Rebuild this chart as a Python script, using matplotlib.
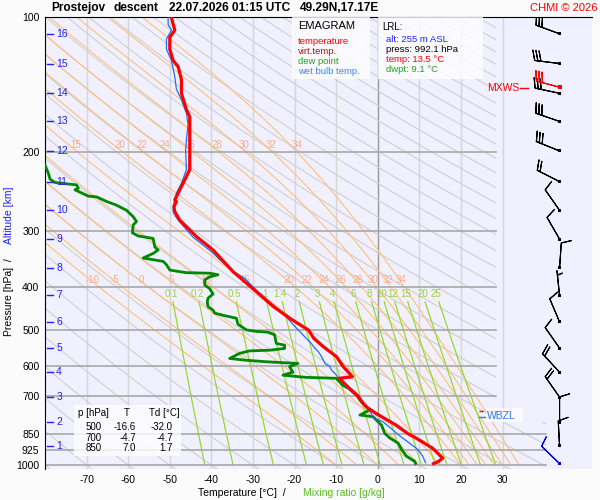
import numpy as np
import matplotlib
matplotlib.use("Agg")
import matplotlib.pyplot as plt
from matplotlib.path import Path
from matplotlib.patches import PathPatch, Rectangle

plt.rcParams["font.family"] = ["Liberation Sans", "DejaVu Sans"]

# ---- sounding data ----
temp_p = [992, 981, 965, 917, 870, 850, 814, 767, 742, 722, 700, 674, 640, 635, 620,
          603, 573, 544, 521, 500, 470, 442, 410, 370, 331, 309, 284, 272, 265, 258,
          256, 243, 231, 219, 198, 179, 167, 161, 148, 138, 129, 125, 118, 111, 107,
          102, 100]
temp_t = [13.4, 14.6, 15.6, 13.2, 9.2, 7.2, 4.4, -0.4, -2.7, -3.8, -4.8, -6.8, -9.3,
          -6.1, -7.1, -8.3, -9.9, -13.1, -15.4, -16.6, -21.2, -25.2, -29.2, -34.8,
          -39.6, -43.6, -47.6, -48.8, -49.0, -48.4, -48.8, -47.6, -46.4, -45.2, -45.2,
          -45.2, -45.2, -46.0, -47.2, -47.2, -48.0, -49.2, -50.0, -50.0, -48.8, -49.4,
          -49.6]

wetb_p = [988, 955, 922, 893, 859, 822, 800, 786, 775, 753, 722, 700, 674, 640, 630,
          614, 603, 593, 573, 558, 549, 535, 512, 485, 458, 432, 407, 383, 367, 348,
          335, 310, 284, 272, 265, 247, 235, 219, 198, 188, 174, 164, 153, 145, 136,
          125, 118, 112, 107, 104, 100]
wetb_t = [11.5, 10.8, 9.6, 7.6, 5.2, 2.8, 1.2, -0.8, -1.4, -1.9, -3.9, -5.1, -7.3,
          -9.5, -9.9, -11.1, -11.5, -12.7, -13.5, -14.3, -15.1, -16.0, -18.0, -20.4,
          -22.8, -26.0, -29.2, -32.0, -35.2, -38.0, -39.8, -44.4, -48.0, -49.2, -49.2,
          -48.4, -47.2, -46.0, -46.2, -46.0, -45.6, -46.0, -47.2, -48.4, -48.8, -49.6,
          -50.8, -50.8, -49.6, -50.4, -50.4]

dwpt_p = [992, 981, 955, 922, 893, 870, 850, 814, 780, 773, 753, 722, 700, 674, 663,
          650, 640, 637, 630, 620, 603, 593, 588, 583, 578, 563, 556, 554, 549, 540,
          535, 512, 505, 503, 499, 485, 470, 463, 458, 451, 443, 432, 424, 415, 404,
          396, 386, 380, 376, 373, 372, 367, 357, 351, 345, 337, 331, 326, 312, 308,
          303, 291, 286, 279, 270, 263, 258, 252, 251, 243, 241, 237, 234, 230, 223,
          214, 210]
dwpt_t = [9.1, 8.9, 6.9, 5.7, 4.9, 2.9, 1.7, 0.9, -1.1, -4.3, -1.9, -4.0, -5.0, -7.0,
          -8.5, -9.3, -10.0, -17.2, -22.8, -20.4, -21.2, -19.2, -26.7, -32.0, -35.6,
          -33.2, -30.8, -26.0, -22.4, -22.4, -24.4, -24.8, -26.4, -29.2, -31.6, -33.6,
          -34.0, -37.2, -39.2, -39.6, -40.8, -41.0, -40.8, -39.6, -40.4, -41.6, -41.6,
          -40.4, -38.4, -40.4, -46.0, -50.0, -50.8, -51.6, -56.4, -54.0, -52.8, -53.6,
          -54.0, -57.6, -59.0, -58.8, -58.0, -58.8, -60.4, -62.8, -65.2, -67.6, -69.6,
          -72.8, -72.0, -72.4, -77.6, -78.8, -79.2, -80.0, -81.0]

# altitude (km) marks and the wind at each of them (surface first)
alt_km = list(range(1, 17))
alt_p = [906, 801, 705, 620, 548, 479, 418, 363, 313, 270, 233, 199, 171, 148, 127, 109]
wind_p = [992] + alt_p
wind_dir = [314, 357, 360, 325, 317, 325, 337, 354, 4, 330, 325, 297, 292, 289, 282, 277, 290]
wind_kt = [10, 10, 10, 20, 20, 10, 10, 5, 10, 10, 10, 20, 30, 30, 30, 30, 30]
mxws_p, mxws_dir, mxws_kt = 143, 285, 32

# diagram guide lines
theta_c = list(range(-90, 330, 10))
theta_w = [-10, -5, 0, 5, 10, 15, 20, 22, 24, 26, 28, 30, 32, 34]
theta_w_top = [15, 20, 22, 24, 26, 28, 30, 32, 34]
mix_r = [0.1, 0.2, 0.5, 1, 1.4, 2, 3, 4, 6, 8, 10, 12, 15, 20, 25]
mix_lbl = ["0.1", "0.2", "0.5", "1", "1.4", "2", "3", "4", "6", "8", "10", "12", "15", "20", "25"]

table_p = ["500", "700", "850"]
table_t = ["-16.6", "-4.7", "7.0"]
table_td = ["-32.0", "-4.7", "1.7"]


def es(tc):
    return 6.112 * np.exp(17.67 * tc / (tc + 243.5))


def moist_dtdp(T, p):
    e = es(T - 273.15)
    rs = 0.622 * e / (p - e)
    num = 287.04 * T + 2.501e6 * rs
    den = 1005.7 + 2.501e6 ** 2 * rs * 0.622 / (287.04 * T ** 2)
    return num / (den * p)


def moist_adiabat(t0, plev):
    T = [t0 + 273.15]
    for i in range(1, len(plev)):
        dp = plev[i] - plev[i - 1]
        k1 = moist_dtdp(T[-1], plev[i - 1])
        k2 = moist_dtdp(T[-1] + dp * k1, plev[i])
        T.append(T[-1] + dp * 0.5 * (k1 + k2))
    return np.array(T) - 273.15


def mix_temp(r, p):
    e = r * p / (622.0 + r)
    a = np.log(e / 6.112)
    return 243.5 * a / (17.67 - a)


W, H = 600, 500


def fx(x):
    return x / W


def fy(y):
    return 1 - y / H


fig = plt.figure(figsize=(6, 5), dpi=100, facecolor="#fbfbfb")
ax = fig.add_axes([fx(45), fy(469), 547 / W, 452 / H])
ax.set_facecolor("#f0f0ff")
ax.set_yscale("log")
ax.set_xlim(-80, 51.5)
ax.set_ylim(1020, 100)

clip = PathPatch(Path([(-80, 90), (28.5, 90), (28.5, 800), (40.5, 800), (40.5, 1030),
                       (-80, 1030), (-80, 90)]), transform=ax.transData)

p_all = np.linspace(100, 1020, 300)

# isotherms
for t in range(-70, 40, 10):
    ax.axvline(t, color="#999999" if t == 0 else "#d6d6d6", lw=1.0, zorder=1)

# dry adiabats
for th in theta_c:
    tt = (th + 273.15) * (p_all / 1000.0) ** 0.2857 - 273.15
    ln, = ax.plot(tt, p_all, color="#d0d0d0", lw=0.8, zorder=1)
    ln.set_clip_path(clip)

# moist adiabats
plev = np.linspace(1000, 100, 901)
for tw in theta_w:
    tt = moist_adiabat(tw, plev)
    ln, = ax.plot(tt, plev, color="#ffc07a", lw=0.8, zorder=2)
    ln.set_clip_path(clip)
    ax.text(np.interp(386, plev[::-1], tt[::-1]) + 0.5, 386, str(tw), color="#ffab85",
            fontsize=7, ha="center", va="center", zorder=3)
    if tw in theta_w_top:
        ax.text(np.interp(193, plev[::-1], tt[::-1]) + 1.6, 193, str(tw), color="#ffab85",
                fontsize=7, ha="center", va="center", zorder=3)

# mixing ratio lines
p_mix = np.linspace(432, 1000, 50)
for r, lbl in zip(mix_r, mix_lbl):
    ax.plot(mix_temp(r, p_mix), p_mix, color="#9ad82a", lw=0.9, zorder=2)
    ax.text(mix_temp(r, 415), 415, lbl, color="#a0d040", fontsize=7,
            ha="center", va="center", zorder=3)

# isobars
for p in [200, 300, 400, 500, 600, 700]:
    ax.plot([-80, 28.5], [p, p], color="#a8a8a8", lw=1.2, zorder=2)
for p in [850, 925, 1000]:
    ax.plot([-80, 40.5], [p, p], color="#a8a8a8", lw=1.2, zorder=2)

# sounding
ax.plot(dwpt_t, dwpt_p, color="#008800", lw=2.0, zorder=5)
ax.plot(wetb_t, wetb_p, color="#1f6fef", lw=0.9, zorder=6)
ax.plot(temp_t, temp_p, color="#ff0000", lw=2.3, zorder=7)

# altitude marks
for km, p in zip(alt_km, alt_p):
    ax.plot([-79.5, -78.0], [p, p], color="#2222ee", lw=1.0, zorder=8, clip_on=False)
    ax.text(-77.3, p, str(km), color="#2222ee", fontsize=7.5, ha="left",
            va="center", zorder=8)

# wind barbs
wx = 43.7
rad = np.deg2rad(wind_dir)
u = -np.array(wind_kt) * np.sin(rad)
v = -np.array(wind_kt) * np.cos(rad)
cols = ["#0000ff"] + ["black"] * (len(wind_p) - 1)
ax.barbs([wx] * len(wind_p), wind_p, u, v, length=6, pivot="tip", color=cols,
         lw=0.8, zorder=8)
ax.scatter([wx] * len(wind_p), wind_p, marker="s", s=5, c=cols, lw=0, zorder=9)
mr = np.deg2rad(mxws_dir)
ax.barbs([wx], [mxws_p], [-mxws_kt * np.sin(mr)], [-mxws_kt * np.cos(mr)], length=6,
         pivot="tip", color="red", lw=0.8, zorder=8)
ax.scatter([wx], [mxws_p], marker="s", s=5, c="red", lw=0, zorder=9)

# axes look
for s in ["right", "bottom"]:
    ax.spines[s].set_visible(False)
ax.spines["left"].set_color("black")
ax.spines["top"].set_color("black")
ax.set_xticks(range(-70, 40, 10))
ax.set_xticklabels([str(t) for t in range(-70, 40, 10)], fontsize=7.5)
yt = [100, 200, 300, 400, 500, 600, 700, 850, 925, 1000]
ax.set_yticks(yt)
ax.set_yticklabels([str(p) for p in yt], fontsize=7.5)
ax.minorticks_off()
ax.tick_params(length=0, pad=4)

# boxes
for (x0, y0, x1, y1) in [(292, 17, 370, 79), (378, 17, 483, 79), (74, 405, 181, 456),
                         (486, 408, 523, 422)]:
    fig.patches.append(Rectangle((fx(x0), fy(y1)), (x1 - x0) / W, (y1 - y0) / H,
                                 transform=fig.transFigure, facecolor="white",
                                 alpha=0.8, edgecolor="none", zorder=10))

# level markers on the right
ax.plot([24.3, 32], [757, 757], color="red", lw=1.0, ls=(0, (3, 2)), zorder=9)
ax.plot([24.3, 26], [782, 782], color="#3377ee", lw=1.0, zorder=9)
fig.text(fx(487), fy(416), "WBZL", color="#3377ee", fontsize=7.5, va="center", zorder=11)
fig.text(fx(487), fy(88), "MXWS", color="red", fontsize=7.5, va="center", zorder=11)
fig.add_artist(plt.Line2D([fx(520), fx(528)], [fy(88), fy(88)], color="red", lw=1.0))

# title
tkw = dict(fontsize=8.6, fontweight="bold", va="center")
fig.text(fx(51), fy(8), "Prostejov", **tkw)
fig.text(fx(114), fy(8), "descent", **tkw)
fig.text(fx(169), fy(8), "22.07.2026 01:15 UTC", **tkw)
fig.text(fx(300), fy(8), "49.29N,17.17E", **tkw)
fig.text(fx(597), fy(8), "CHMI \u00a9 2026", color="red", fontsize=8, ha="right", va="center")

# legend
fig.text(fx(298), fy(26), "EMAGRAM", fontsize=8, va="center", zorder=11)
for txt, c, y in [("temperature", "red", 42), ("virt.temp.", "#b01010", 52),
                  ("dew point", "#22a022", 62), ("wet bulb temp.", "#3388ff", 72)]:
    fig.text(fx(298), fy(y), txt, color=c, fontsize=6.8, va="center", zorder=11)

fig.text(fx(382), fy(27), "LRL:", fontsize=7, va="center", zorder=11)
for txt, c, y in [("alt: 255 m ASL", "#2020ff", 40), ("press: 992.1 hPa", "black", 50),
                  ("temp: 13.5 \u00b0C", "red", 60), ("dwpt: 9.1 \u00b0C", "#22a022", 70)]:
    fig.text(fx(386), fy(y), txt, color=c, fontsize=6.8, va="center", zorder=11)

# table
fig.text(fx(78), fy(413), "p [hPa]", fontsize=7, va="center", zorder=11)
fig.text(fx(127), fy(413), "T", fontsize=7, ha="center", va="center", zorder=11)
fig.text(fx(180), fy(413), "Td [\u00b0C]", fontsize=7, ha="right", va="center", zorder=11)
for i in range(3):
    y = 427.5 + 10.3 * i
    fig.text(fx(102), fy(y), table_p[i], fontsize=7, ha="right", va="center", zorder=11)
    fig.text(fx(136), fy(y), table_t[i], fontsize=7, ha="right", va="center", zorder=11)
    fig.text(fx(173), fy(y), table_td[i], fontsize=7, ha="right", va="center", zorder=11)

# axis titles
fig.text(fx(198), fy(493), "Temperature [\u00b0C]  /", fontsize=7.5, va="center")
fig.text(fx(303), fy(493), "Mixing ratio [g/kg]", color="#55c020", fontsize=7.5, va="center")
fig.text(fx(9), fy(336), "Pressure [hPa]  /", fontsize=7.5, rotation=90,
         ha="center", va="bottom")
fig.text(fx(9), fy(244), "Altitude [km]", color="#2020ee", fontsize=7.5, rotation=90,
         ha="center", va="bottom")

fig.savefig("out.png", dpi=100, facecolor=fig.get_facecolor())
